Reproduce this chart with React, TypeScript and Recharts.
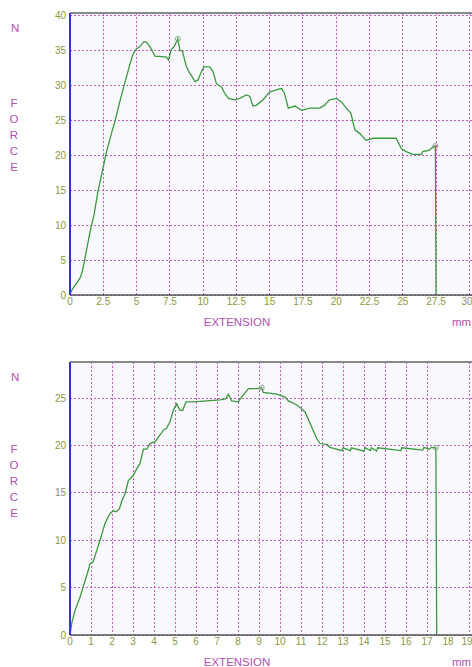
import React from "react";
import {
  CartesianGrid,
  Line,
  LineChart,
  ReferenceDot,
  ReferenceLine,
  XAxis,
  YAxis,
} from "recharts";

// test 1 (upper chart)
const extension1 = [
  0, 0.08, 0.3, 0.5, 0.75, 0.9, 1.1, 1.3, 1.5, 1.8, 2.1, 2.5, 2.75, 3.1, 3.4,
  3.7, 4.0, 4.25, 4.5, 4.75, 5.0, 5.25, 5.55, 5.75, 6.0, 6.2, 6.4, 6.75, 7.25,
  7.4, 7.6, 7.85, 8.0, 8.1, 8.25, 8.45, 8.75, 9.0, 9.4, 9.6, 9.85, 10.05, 10.5,
  10.75, 11.0, 11.4, 11.6, 11.9, 12.4, 12.75, 13.25, 13.5, 13.75, 14.0, 14.5,
  15.0, 15.6, 15.9, 16.1, 16.4, 16.9, 17.4, 18.0, 18.75, 19.1, 19.5, 20.0,
  20.4, 20.75, 21.1, 21.4, 21.75, 22.25, 22.75, 24.5, 24.9, 25.25, 25.75, 26.4,
  26.5, 27.0, 27.3, 27.45, 27.5,
];
const force1 = [
  0, 0.5, 1.2, 1.7, 2.4, 3.2, 5, 7, 9, 11.4, 14.8, 18.3, 20.5, 23, 25, 27.3,
  29.5, 31.2, 33, 34.5, 35.2, 35.5, 36.2, 36.1, 35.5, 34.8, 34.1, 34.1, 34.0,
  33.6, 35, 35.6, 36.2, 36.6, 35, 34.8, 32.6, 31.7, 30.5, 30.7, 31.8, 32.6,
  32.6, 31.9, 30.2, 29.7, 28.9, 28.1, 27.9, 28.1, 28.6, 28.4, 27.0, 27.1, 27.9,
  29.0, 29.4, 29.5, 28.9, 26.7, 27.0, 26.4, 26.7, 26.7, 27.1, 27.9, 28.1, 27.6,
  26.7, 26.0, 23.6, 23.1, 22.1, 22.4, 22.4, 20.9, 20.5, 20.1, 20.1, 20.5, 20.7,
  21.2, 21.3, 0,
];
const xTicks1 = [0, 2.5, 5, 7.5, 10, 12.5, 15, 17.5, 20, 22.5, 25, 27.5, 30];
const yTicks1 = [0, 5, 10, 15, 20, 25, 30, 35, 40];

// test 2 (lower chart)
const extension2 = [
  0, 0.08, 0.24, 0.48, 0.63, 0.87, 0.95, 1.1, 1.27, 1.43, 1.67, 1.9, 2.06, 2.2,
  2.35, 2.46, 2.62, 2.78, 3.0, 3.17, 3.33, 3.5, 3.65, 3.81, 4.05, 4.29, 4.44,
  4.6, 4.76, 4.92, 5.08, 5.24, 5.37, 5.52, 5.87, 6.5, 7.14, 7.4, 7.54, 7.7, 8.0,
  8.17, 8.5, 8.97, 9.13, 9.2, 9.84, 10.24, 10.4, 10.7, 10.95, 11.2, 11.75, 11.9,
  12.22, 12.38, 12.95, 13.0, 13.35, 13.4, 14.0, 14.05, 14.3, 14.35, 14.6, 14.65,
  15.75, 15.8, 16.8, 16.85, 17.1, 17.2, 17.42, 17.46,
];
const force2 = [
  0, 1.2, 2.6, 4.0, 5.1, 6.8, 7.5, 7.7, 8.9, 10, 11.8, 12.8, 13.1, 13.0, 13.3,
  14.1, 14.9, 16.3, 16.8, 17.5, 18.1, 19.6, 19.6, 20.2, 20.4, 21.1, 21.6, 21.8,
  22.5, 23.7, 24.4, 23.7, 23.7, 24.6, 24.6, 24.7, 24.8, 24.9, 25.4, 24.7, 24.6,
  25.1, 26.0, 26.0, 26.1, 25.6, 25.4, 25.1, 24.7, 24.4, 24.0, 23.5, 20.7, 20.2,
  20.1, 19.8, 19.45, 19.75, 19.45, 19.75, 19.4, 19.75, 19.45, 19.75, 19.4,
  19.75, 19.45, 19.75, 19.5, 19.8, 19.6, 19.8, 19.75, 0,
];
const xTicks2 = [0, 1, 2, 3, 4, 5, 6, 7, 8, 9, 10, 11, 12, 13, 14, 15, 16, 17, 18, 19];
const yTicks2 = [0, 5, 10, 15, 20, 25];

const FONT = "'Liberation Sans', Arial, sans-serif";
const LABEL = "#b050b0";
const TICK = "#8a9a40";

type Pt = { x: number; y: number };

const ForceChart = ({
  data,
  xMax,
  yMax,
  xTicks,
  yTicks,
  top,
  marginTop,
}: {
  data: Pt[];
  xMax: number;
  yMax: number;
  xTicks: number[];
  yTicks: number[];
  top: number;
  marginTop: number;
}) => {
  const peak = data.reduce((a, b) => (b.y > a.y ? b : a), data[0]);
  const last = data[data.length - 2];
  const plotBottom = top + 330 - 35;
  const plotTop = top + marginTop;
  const letters = "FORCE".split("");
  const forceTop = plotTop + (plotBottom - plotTop) * 0.29;

  return (
    <div style={{ position: "absolute", left: 0, top, width: 472, height: 330 }}>
      <LineChart
        width={472}
        height={330}
        data={data}
        margin={{ top: marginTop, right: 0, bottom: 15, left: 0 }}
      >
        <CartesianGrid
          stroke="#c858c8"
          strokeDasharray="2 2"
          fill="#f9f8fe"
          shapeRendering="crispEdges"
          horizontalValues={yTicks}
          verticalValues={xTicks}
        />
        <XAxis
          type="number"
          dataKey="x"
          domain={[0, xMax]}
          ticks={xTicks}
          allowDataOverflow
          height={20}
          tickLine={false}
          tickMargin={0}
          tickSize={3}
          stroke="#555555"
          strokeWidth={1.5}
          tick={{ fill: TICK, fontSize: 10, fontFamily: FONT }}
        />
        <YAxis
          type="number"
          dataKey="y"
          domain={[0, yMax]}
          ticks={yTicks}
          allowDataOverflow
          width={70}
          tickLine={false}
          tickMargin={0}
          tickSize={4}
          stroke="#3333cc"
          strokeWidth={2}
          tick={{ fill: TICK, fontSize: 10, fontFamily: FONT }}
        />
        <ReferenceLine y={yMax} stroke="#888888" strokeWidth={2} />
        <Line
          type="linear"
          dataKey="y"
          stroke="#3a9a3a"
          strokeWidth={1.3}
          dot={false}
          isAnimationActive={false}
        />
        <ReferenceDot x={peak.x} y={peak.y} r={2.5} fill="none" stroke="#8aa88a" />
        <ReferenceDot x={last.x} y={last.y} r={2.5} fill="none" stroke="#8aa88a" />
      </LineChart>
      <div
        style={{
          position: "absolute",
          left: 11,
          top: marginTop + 9,
          color: LABEL,
          fontFamily: FONT,
          fontSize: 11.5,
        }}
      >
        N
      </div>
      <div
        style={{
          position: "absolute",
          left: 9,
          top: forceTop - top,
          width: 10,
          color: LABEL,
          fontFamily: FONT,
          fontSize: 11.5,
          lineHeight: "16px",
          textAlign: "center",
        }}
      >
        {letters.map((c, i) => (
          <div key={i}>{c}</div>
        ))}
      </div>
      <div
        style={{
          position: "absolute",
          left: 187,
          width: 100,
          textAlign: "center",
          top: 295 + 21,
          color: LABEL,
          fontFamily: FONT,
          fontSize: 11.5,
        }}
      >
        EXTENSION
      </div>
      <div
        style={{
          position: "absolute",
          left: 452,
          top: 295 + 21,
          color: LABEL,
          fontFamily: FONT,
          fontSize: 11.5,
        }}
      >
        mm
      </div>
    </div>
  );
};

const App = () => {
  const data1 = extension1.map((x, i) => ({ x, y: force1[i] }));
  const data2 = extension2.map((x, i) => ({ x, y: force2[i] }));
  return (
    <div style={{ position: "absolute", left: 0, top: 0, width: 472, height: 667, overflow: "hidden", background: "#fff" }}>
      <ForceChart data={data1} xMax={30.2} yMax={40.3} xTicks={xTicks1} yTicks={yTicks1} top={0} marginTop={13} />
      <ForceChart data={data2} xMax={19.14} yMax={28.8} xTicks={xTicks2} yTicks={yTicks2} top={340} marginTop={22} />
    </div>
  );
};

export default App;
